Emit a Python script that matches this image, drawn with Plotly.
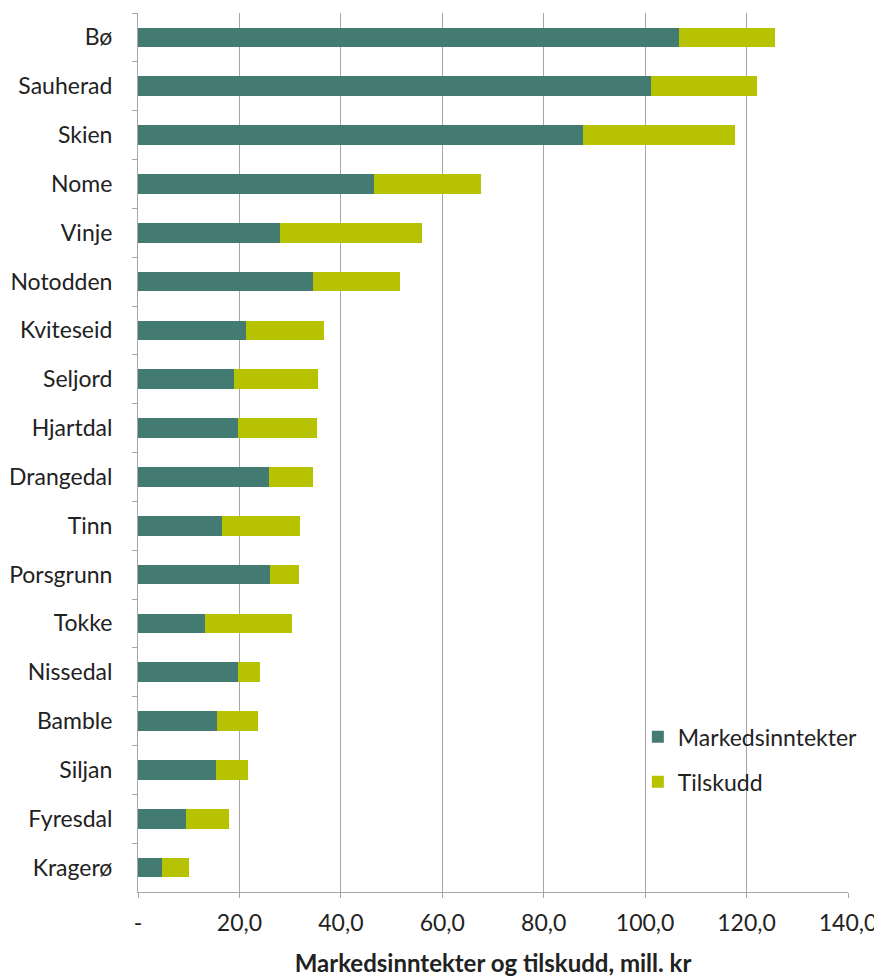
import plotly.graph_objects as go

kommuner = ["Bø", "Sauherad", "Skien", "Nome", "Vinje", "Notodden", "Kviteseid",
            "Seljord", "Hjartdal", "Drangedal", "Tinn", "Porsgrunn", "Tokke",
            "Nissedal", "Bamble", "Siljan", "Fyresdal", "Kragerø"]
markedsinntekter = [106.7, 101.1, 87.8, 46.6, 28.0, 34.5, 21.2, 19.0, 19.7,
                    25.8, 16.6, 26.0, 13.2, 19.7, 15.6, 15.3, 9.5, 4.8]
totalt = [125.6, 122.1, 117.7, 67.6, 56.0, 51.7, 36.6, 35.4, 35.2,
          34.6, 32.0, 31.7, 30.3, 24.0, 23.6, 21.6, 18.0, 10.0]
tilskudd = [round(t - m, 1) for t, m in zip(totalt, markedsinntekter)]

tick_vals = [0, 20, 40, 60, 80, 100, 120, 140]
tick_text = ["-", "20,0", "40,0", "60,0", "80,0", "100,0", "120,0", "140,0"]

FONT = "Lato, 'Open Sans', sans-serif"

fig = go.Figure()
fig.add_trace(go.Bar(
    y=kommuner, x=markedsinntekter, orientation="h", name="Markedsinntekter",
    marker=dict(color="#437b72", line=dict(width=0)), legendgroup="a",
))
fig.add_trace(go.Bar(
    y=kommuner, x=tilskudd, orientation="h", name="Tilskudd",
    marker=dict(color="#b7c300", line=dict(width=0)), legendgroup="b",
))

# page body has an 8px margin, so the figure is a bit smaller than the window
fig.update_layout(
    barmode="stack",
    bargap=0.6,
    width=874,
    height=969,
    margin=dict(l=130, r=34, t=5, b=85),
    paper_bgcolor="white",
    plot_bgcolor="white",
    font=dict(family=FONT, size=23, color="#222"),
    legend=dict(
        x=0.704, y=0.201, xanchor="left", yanchor="top",
        traceorder="grouped", tracegroupgap=12,
        font=dict(size=23), bgcolor="rgba(0,0,0,0)",
        itemwidth=30,
    ),
    xaxis=dict(
        range=[0, 140],
        tickvals=tick_vals,
        ticktext=tick_text,
        showgrid=True, gridcolor="#a6a6a6", gridwidth=1,
        showline=True, linecolor="#a6a6a6", linewidth=1,
        ticks="outside", ticklen=5, tickcolor="#a6a6a6",
        ticklabelstandoff=5,
        zeroline=False,
        title=dict(text="<b>Markedsinntekter og tilskudd, mill. kr</b>",
                   font=dict(size=24), standoff=20),
        tickfont=dict(size=23),
        automargin=False,
    ),
    yaxis=dict(
        autorange="reversed",
        showline=True, linecolor="#a6a6a6", linewidth=1,
        ticks="outside", ticklen=5, tickcolor="#a6a6a6",
        tickson="boundaries",
        ticklabelstandoff=20,
        showgrid=False,
        tickfont=dict(size=23),
        automargin=False,
    ),
)

fig.write_html("out.html")
